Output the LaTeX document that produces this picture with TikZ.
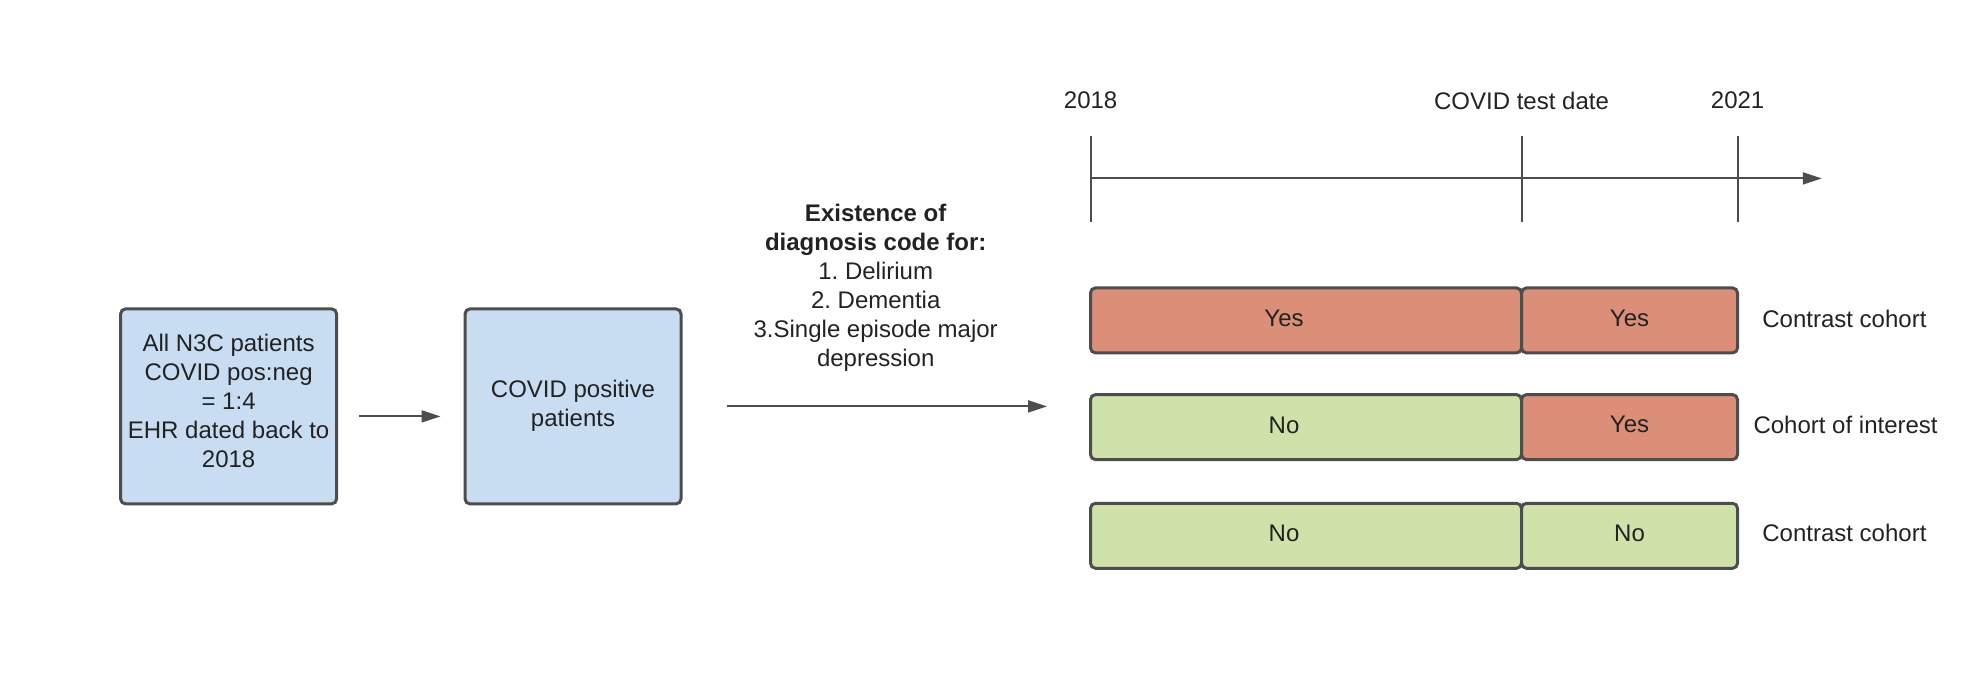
\documentclass[tikz,border=0pt]{standalone}
\usepackage{fontspec}
\setmainfont{Liberation Sans}
\usetikzlibrary{arrows.meta}
\frenchspacing
\definecolor{linec}{HTML}{4D4D4D}
\definecolor{textc}{HTML}{222222}
\definecolor{bluef}{HTML}{C9DDF2}
\definecolor{redf}{HTML}{DB8F78}
\definecolor{greenf}{HTML}{CEE2A9}
\begin{document}
\begin{tikzpicture}[x=1pt,y=-1pt,
  txt/.style={text=textc, font=\fontsize{24}{29}\selectfont, align=center, inner sep=0pt},
  bluebox/.style={draw=linec, line width=3pt, rounded corners=5pt, fill=bluef,
    minimum width=216pt, minimum height=195pt},
  bar/.style={draw=linec, line width=3pt, rounded corners=5pt, minimum height=65pt},
  longbar/.style={bar, minimum width=431pt},
  shortbar/.style={bar, minimum width=216pt},
  conn/.style={draw=linec, line width=2pt, -{Triangle[length=19pt,width=12pt]}},
  tick/.style={draw=linec, line width=2pt}
]
\useasboundingbox (0,0) rectangle (1970,686);

% left boxes
\node[bluebox] (b1) at (228.6,406.4) {};
\node[txt] (b1t) at (228.6,401.4) {All N3C patients\\COVID pos:neg\\= 1:4\\EHR dated back to\\2018};
\node[bluebox] (b2) at (573,406.4) {};
\node[txt] (b2t) at (573,406) {COVID positive\\patients};
\draw[conn, shorten <=21pt, shorten >=23pt] ([yshift=-10pt]b1.east) -- ([yshift=-10pt]b2.west);

% criteria text
\node[txt] (crit) at (875.7,287.5) {\textbf{Existence of}\\\textbf{diagnosis code for:}\\1. Delirium\\2. Dementia\\3.Single episode major\\depression};
\coordinate (a2end) at (1047,406.4);
\draw[conn, shorten <=44pt] (b2.east) -- (a2end);

% timeline
\coordinate (t0) at (1090.6,178.4);
\coordinate (tend) at (1821.8,178.4);
\draw[conn] (t0) -- (tend);
\draw[tick] (1090.6,135.7) -- (1090.6,222.4);
\draw[tick] (1521.5,135.7) -- (1521.5,222.4);
\draw[tick] (1737.6,135.7) -- (1737.6,222.4);
\node[txt] (l2018) at (1090.6,100.5) {2018};
\node[txt] (lcovid) at (1521.5,100.5) {COVID test date};
\node[txt] (l2021) at (1737.6,100.5) {2021};

% bars
\node[longbar, fill=redf] (r1a) at (1306,320.4) {};
\node[shortbar, fill=redf] (r1b) at (1629.5,320.4) {};
\node[longbar, fill=greenf] (r2a) at (1306,427.1) {};
\node[shortbar, fill=redf] (r2b) at (1629.5,427.1) {};
\node[longbar, fill=greenf] (r3a) at (1306,535.8) {};
\node[shortbar, fill=greenf] (r3b) at (1629.5,535.8) {};
\node[txt] (r1at) at (1284,318.5) {Yes};
\node[txt] (r1bt) at (1629.5,318.5) {Yes};
\node[txt] (r2at) at (1284,425.5) {No};
\node[txt] (r2bt) at (1629.5,424.5) {Yes};
\node[txt] (r3at) at (1284,533.5) {No};
\node[txt] (r3bt) at (1629.5,533.5) {No};

\node[txt] (c1) at (1844.4,318.5) {Contrast cohort};
\node[txt] (c2) at (1845.6,424.5) {Cohort of interest};
\node[txt] (c3) at (1844.4,533) {Contrast cohort};
\end{tikzpicture}
\end{document}
